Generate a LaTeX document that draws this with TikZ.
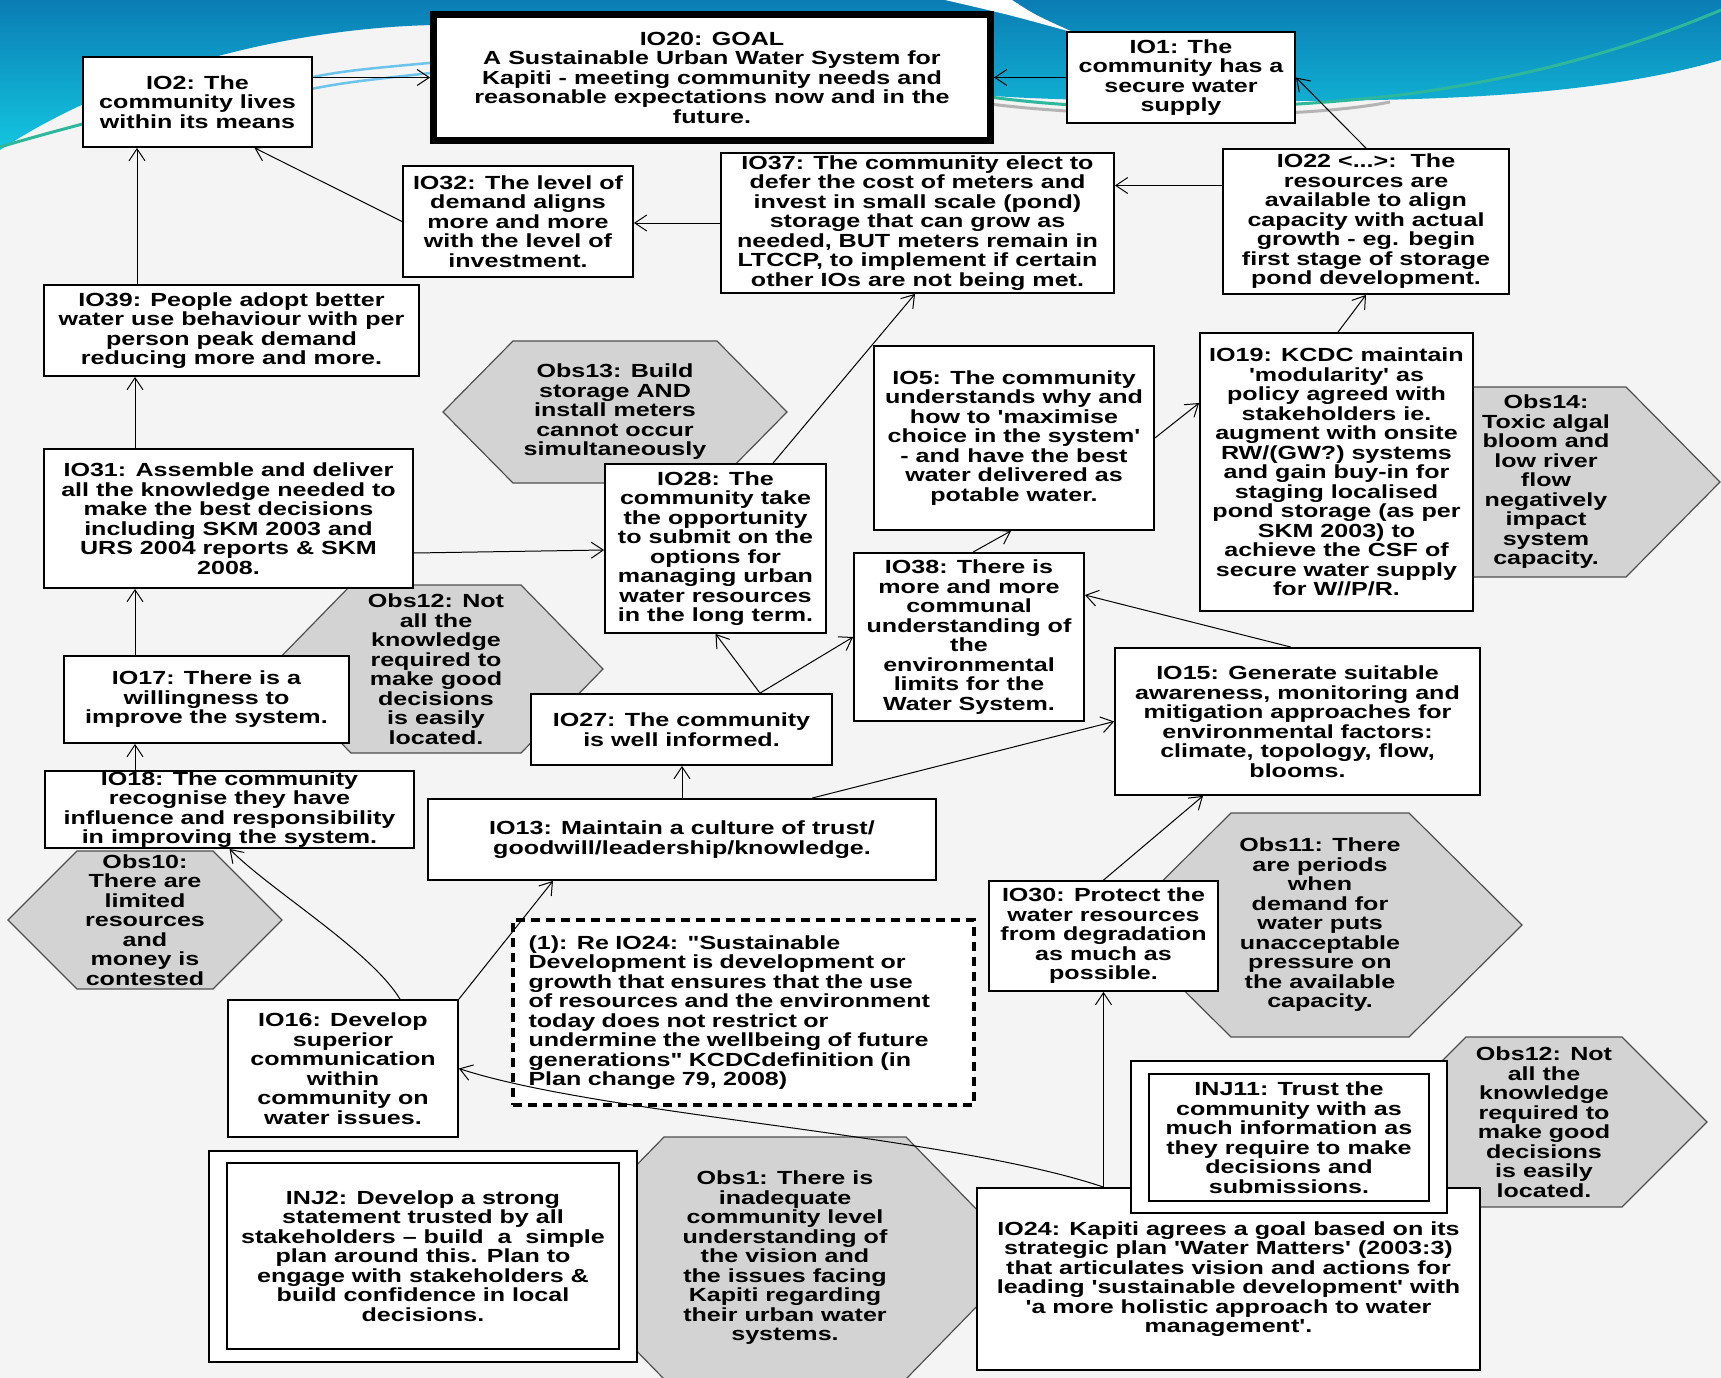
\documentclass[tikz,border=0pt]{standalone}
\usepackage{fontspec}
\newfontfamily\dfont{Liberation Sans Bold}[FakeStretch=1.32]
\usetikzlibrary{arrows.meta,calc}
\definecolor{bgc}{HTML}{F4F4F4}
\definecolor{hexg}{HTML}{D3D3D3}
\definecolor{hexline}{HTML}{505050}
\definecolor{bluetop}{HTML}{0A7DB4}
\definecolor{bluebot}{HTML}{14C6E0}
\definecolor{tealline}{HTML}{2DB89B}
\definecolor{lblue}{HTML}{6CC4EC}
\definecolor{greyline}{HTML}{B4B4B4}
\newcommand\dsize{\dfont\fontsize{19}{19.5}\selectfont}
\newcommand\hexnode[7]{%
  \draw[hexdraw] ({#2-#4},#3) -- ({#2-#5},{#3-#6}) -- ({#2+#5},{#3-#6}) -- ({#2+#4},#3) -- ({#2+#5},{#3+#6}) -- ({#2-#5},{#3+#6}) -- cycle;
  \node[hextext] (#1) at (#2,#3) {#7};}
\tikzset{
  box/.style={draw=black, line width=1.8pt, fill=white, align=center, inner sep=0pt, font=\dsize},
  goalbox/.style={box, line width=7pt},
  injbox/.style={draw=black, line width=2pt, fill=white, inner sep=0pt},
  notebox/.style={box, line width=3.5pt, dash pattern=on 9pt off 6pt, align=left, text width=430pt, inner xsep=15pt},
  hexdraw/.style={fill=hexg, draw=hexline, line width=1.2pt},
  hextext/.style={align=center, inner sep=0pt, font=\dsize},
  conn/.style={draw=black, line width=1pt, -{Straight Barb[length=12pt,width=16pt,line width=1pt]}},
}
\begin{document}
\begin{tikzpicture}[x=1pt,y=-1pt]
\useasboundingbox (0,0) rectangle (1721,1378);
% background
\fill[bgc] (0,0) rectangle (1721,1378);
\shade[top color=bluetop, bottom color=bluebot] (0,0) -- (1721,0) -- (1721,60)
  .. controls (1600,95) and (1450,100) .. (1300,101)
  .. controls (1150,102) and (1050,100) .. (994,96) -- (700,60) -- (433,25)
  .. controls (300,28) and (130,65) .. (0,150) -- cycle;
\fill[white] (945,0) -- (1012,0) .. controls (1035,15) .. (1075,33) .. controls (1010,15) .. (945,0);
\draw[tealline, line width=3pt] (0,147) .. controls (30,138) and (60,130) .. (90,122);
\draw[lblue, line width=2.5pt] (250,92) .. controls (330,72) .. (440,62);
\draw[lblue, line width=2.5pt] (250,103) .. controls (330,84) .. (440,72);
\draw[greyline, line width=3pt] (990,104) .. controls (1100,118) and (1300,120) .. (1390,102);
\draw[tealline, line width=3pt] (990,97) .. controls (1100,112) and (1250,112) .. (1400,95) .. controls (1550,75) and (1650,40) .. (1721,10);

% hexagons
\hexnode{obs13}{615}{412}{172}{102}{71}{Obs13: Build\\storage AND\\install meters\\cannot occur\\simultaneously}
\hexnode{obs12a}{436}{669}{167}{85}{84}{Obs12: Not\\all the\\knowledge\\required to\\make good\\decisions\\is easily\\located.}
\hexnode{obs10}{145}{920}{137}{68}{69}{Obs10:\\There are\\limited\\resources\\and\\money is\\contested}
\hexnode{obs11}{1320}{925}{202}{89}{112}{Obs11: There\\are periods\\when\\demand for\\water puts\\unacceptable\\pressure on\\the available\\capacity.}
\hexnode{obs14}{1546}{482}{174}{80}{95}{Obs14:\\Toxic algal\\bloom and\\low river\\flow\\negatively\\impact\\system\\capacity.}
\hexnode{obs12b}{1544}{1122}{163}{78}{85}{Obs12: Not\\all the\\knowledge\\required to\\make good\\decisions\\is easily\\located.}
\hexnode{obs1}{785}{1258}{239}{121}{121}{Obs1: There is\\inadequate\\community level\\understanding of\\the vision and\\the issues facing\\Kapiti regarding\\their urban water\\systems.}

% boxes
\node[goalbox, minimum width=557pt, minimum height=126pt] (io20) at (712,77.5) {IO20: GOAL\\A Sustainable Urban Water System for\\Kapiti - meeting community needs and\\reasonable expectations now and in the\\future.};
\node[box, minimum width=229pt, minimum height=90pt] (io2) at (197.5,102) {IO2: The\\community lives\\within its means};
\node[box, minimum width=228pt, minimum height=91pt] (io1) at (1181,77.5) {IO1: The\\community has a\\secure water\\supply};
\node[box, minimum width=230pt, minimum height=111pt] (io32) at (518,221.5) {IO32: The level of\\demand aligns\\more and more\\with the level of\\investment.};
\node[box, minimum width=393pt, minimum height=140pt] (io37) at (917.5,223) {IO37: The community elect to\\defer the cost of meters and\\invest in small scale (pond)\\storage that can grow as\\needed, BUT meters remain in\\LTCCP, to implement if certain\\other IOs are not being met.};
\node[box, minimum width=286pt, minimum height=145pt] (io22) at (1366,221.5) {IO22 <...>:\ \ The\\resources are\\available to align\\capacity with actual\\growth - eg. begin\\first stage of storage\\pond development.};
\node[box, minimum width=375pt, minimum height=91pt] (io39) at (231.5,330.5) {IO39: People adopt better\\water use behaviour with per\\person peak demand\\reducing more and more.};
\node[box, minimum width=280pt, minimum height=184pt] (io5) at (1014,438) {IO5: The community\\understands why and\\how to 'maximise\\choice in the system'\\- and have the best\\water delivered as\\potable water.};
\node[box, minimum width=273pt, minimum height=278pt] (io19) at (1336.5,472) {IO19: KCDC maintain\\'modularity' as\\policy agreed with\\stakeholders ie.\\augment with onsite\\RW/(GW?) systems\\and gain buy-in for\\staging localised\\pond storage (as per\\SKM 2003) to\\achieve the CSF of\\secure water supply\\for W//P/R.};
\node[box, minimum width=369pt, minimum height=139pt] (io31) at (228.5,518.5) {IO31: Assemble and deliver\\all the knowledge needed to\\make the best decisions\\including SKM 2003 and\\URS 2004 reports \& SKM\\2008.};
\node[box, minimum width=221pt, minimum height=169pt] (io28) at (715.5,548.5) {IO28: The\\community take\\the opportunity\\to submit on the\\options for\\managing urban\\water resources\\in the long term.};
\node[box, minimum width=230pt, minimum height=168pt] (io38) at (969,637) {IO38: There is\\more and more\\communal\\understanding of\\the\\environmental\\limits for the\\Water System.};
\node[box, minimum width=285pt, minimum height=87pt] (io17) at (206.5,699.5) {IO17: There is a\\willingness to\\improve the system.};
\node[box, minimum width=301pt, minimum height=71pt] (io27) at (681.5,729.5) {IO27: The community\\is well informed.};
\node[box, minimum width=365pt, minimum height=147pt] (io15) at (1297.5,721.5) {IO15: Generate suitable\\awareness, monitoring and\\mitigation approaches for\\environmental factors:\\climate, topology, flow,\\blooms.};
\node[box, minimum width=369pt, minimum height=77pt] (io18) at (229.5,809.5) {IO18: The community\\recognise they have\\influence and responsibility\\in improving the system.};
\node[box, minimum width=508pt, minimum height=81pt] (io13) at (682,839.5) {IO13: Maintain a culture of trust/\\goodwill/leadership/knowledge.};
\node[box, minimum width=229pt, minimum height=110pt] (io30) at (1103.5,936) {IO30: Protect the\\water resources\\from degradation\\as much as\\possible.};
\node[notebox, minimum width=461pt, minimum height=185pt] (note) at (743.5,1012.5) {(1): Re IO24: "Sustainable\\Development is development or\\growth that ensures that the use\\of resources and the environment\\today does not restrict or\\undermine the wellbeing of future\\generations" KCDCdefinition (in\\Plan change 79, 2008)};
\node[box, minimum width=230pt, minimum height=137pt] (io16) at (343,1068.5) {IO16: Develop\\superior\\communication\\within\\community on\\water issues.};
\node[box, minimum width=503pt, minimum height=182pt] (io24) at (1228.5,1279) {IO24: Kapiti agrees a goal based on its\\strategic plan 'Water Matters' (2003:3)\\that articulates vision and actions for\\leading 'sustainable development' with\\'a more holistic approach to water\\management'.};
\node[injbox, minimum width=316pt, minimum height=152pt] (inj11o) at (1289,1137) {};
\node[box, line width=2pt, minimum width=280pt, minimum height=127pt] (inj11) at (1289,1137.5) {INJ11: Trust the\\community with as\\much information as\\they require to make\\decisions and\\submissions.};
\node[injbox, minimum width=428pt, minimum height=211pt] (inj2o) at (423,1256.5) {};
\node[box, line width=2pt, minimum width=392pt, minimum height=186pt] (inj2) at (423,1256) {INJ2: Develop a strong\\statement trusted by all\\stakeholders – build\ \ a\ \ simple\\plan around this. Plan to\\engage with stakeholders \&\\build confidence in local\\decisions.};

% connectors
\coordinate (vx) at (135,0);
\coordinate (vx2) at (137,0);
\draw[conn] (io2.east |- io20.west) -- (io20.west);
\draw[conn] (io1.west |- io20.east) -- (io20.east);
\draw[conn] (io22.north) -- (io1.east);
\coordinate (c4) at ([yshift=36pt]io22.west);
\draw[conn] (c4) -- (c4 -| io37.east);
\draw[conn] (io37.west) -- (io37.west -| io32.east);
\draw[conn] (io32.west) -- ([xshift=57pt]io2.south);
\draw[conn] (io39.north -| vx2) -- (io2.south -| vx2);
\draw[conn] (io31.north -| vx) -- (io39.south -| vx);
\draw[conn] (io17.north -| vx) -- (io31.south -| vx);
\draw[conn] (io18.north -| vx) -- (io17.south -| vx);
\draw[conn] ([yshift=-34.5pt]io31.east) -- ([yshift=-1.5pt]io28.west);
\draw[conn] ([xshift=57.5pt]io28.north) -- ([xshift=-2.5pt]io37.south);
\coordinate (c13) at ([xshift=78.5pt]io27.north);
\draw[conn] (c13) -- (io28.south);
\draw[conn] (c13) -- (io38.west);
\draw[conn] ([xshift=4pt]io38.north) -- ([xshift=-3pt]io5.south);
\draw[conn] (io5.east) -- ([yshift=69pt]io19.west);
\draw[conn] ([xshift=1.5pt]io19.north) -- (io22.south);
\draw[conn] ([xshift=-6.5pt]io15.north) -- ([yshift=42pt]io38.east);
\draw[conn] (io13.north) -- (io13.north |- io27.south);
\draw[conn] ([xshift=130pt]io13.north) -- (io15.west);
\draw[conn] (io30.north) -- ([xshift=-94.5pt]io15.south);
\coordinate (c22) at (io30.south |- io24.north);
\draw[conn] (c22) -- (io30.south);
\draw[conn] (c22) .. controls (950,1135) and (600,1115) .. (io16.east);
\draw[conn] ([xshift=57pt]io16.north) .. controls (370,950) and (270,890) .. (io18.south);
\draw[conn] (io16.north east) -- ([xshift=-129pt]io13.south);
\end{tikzpicture}
\end{document}
